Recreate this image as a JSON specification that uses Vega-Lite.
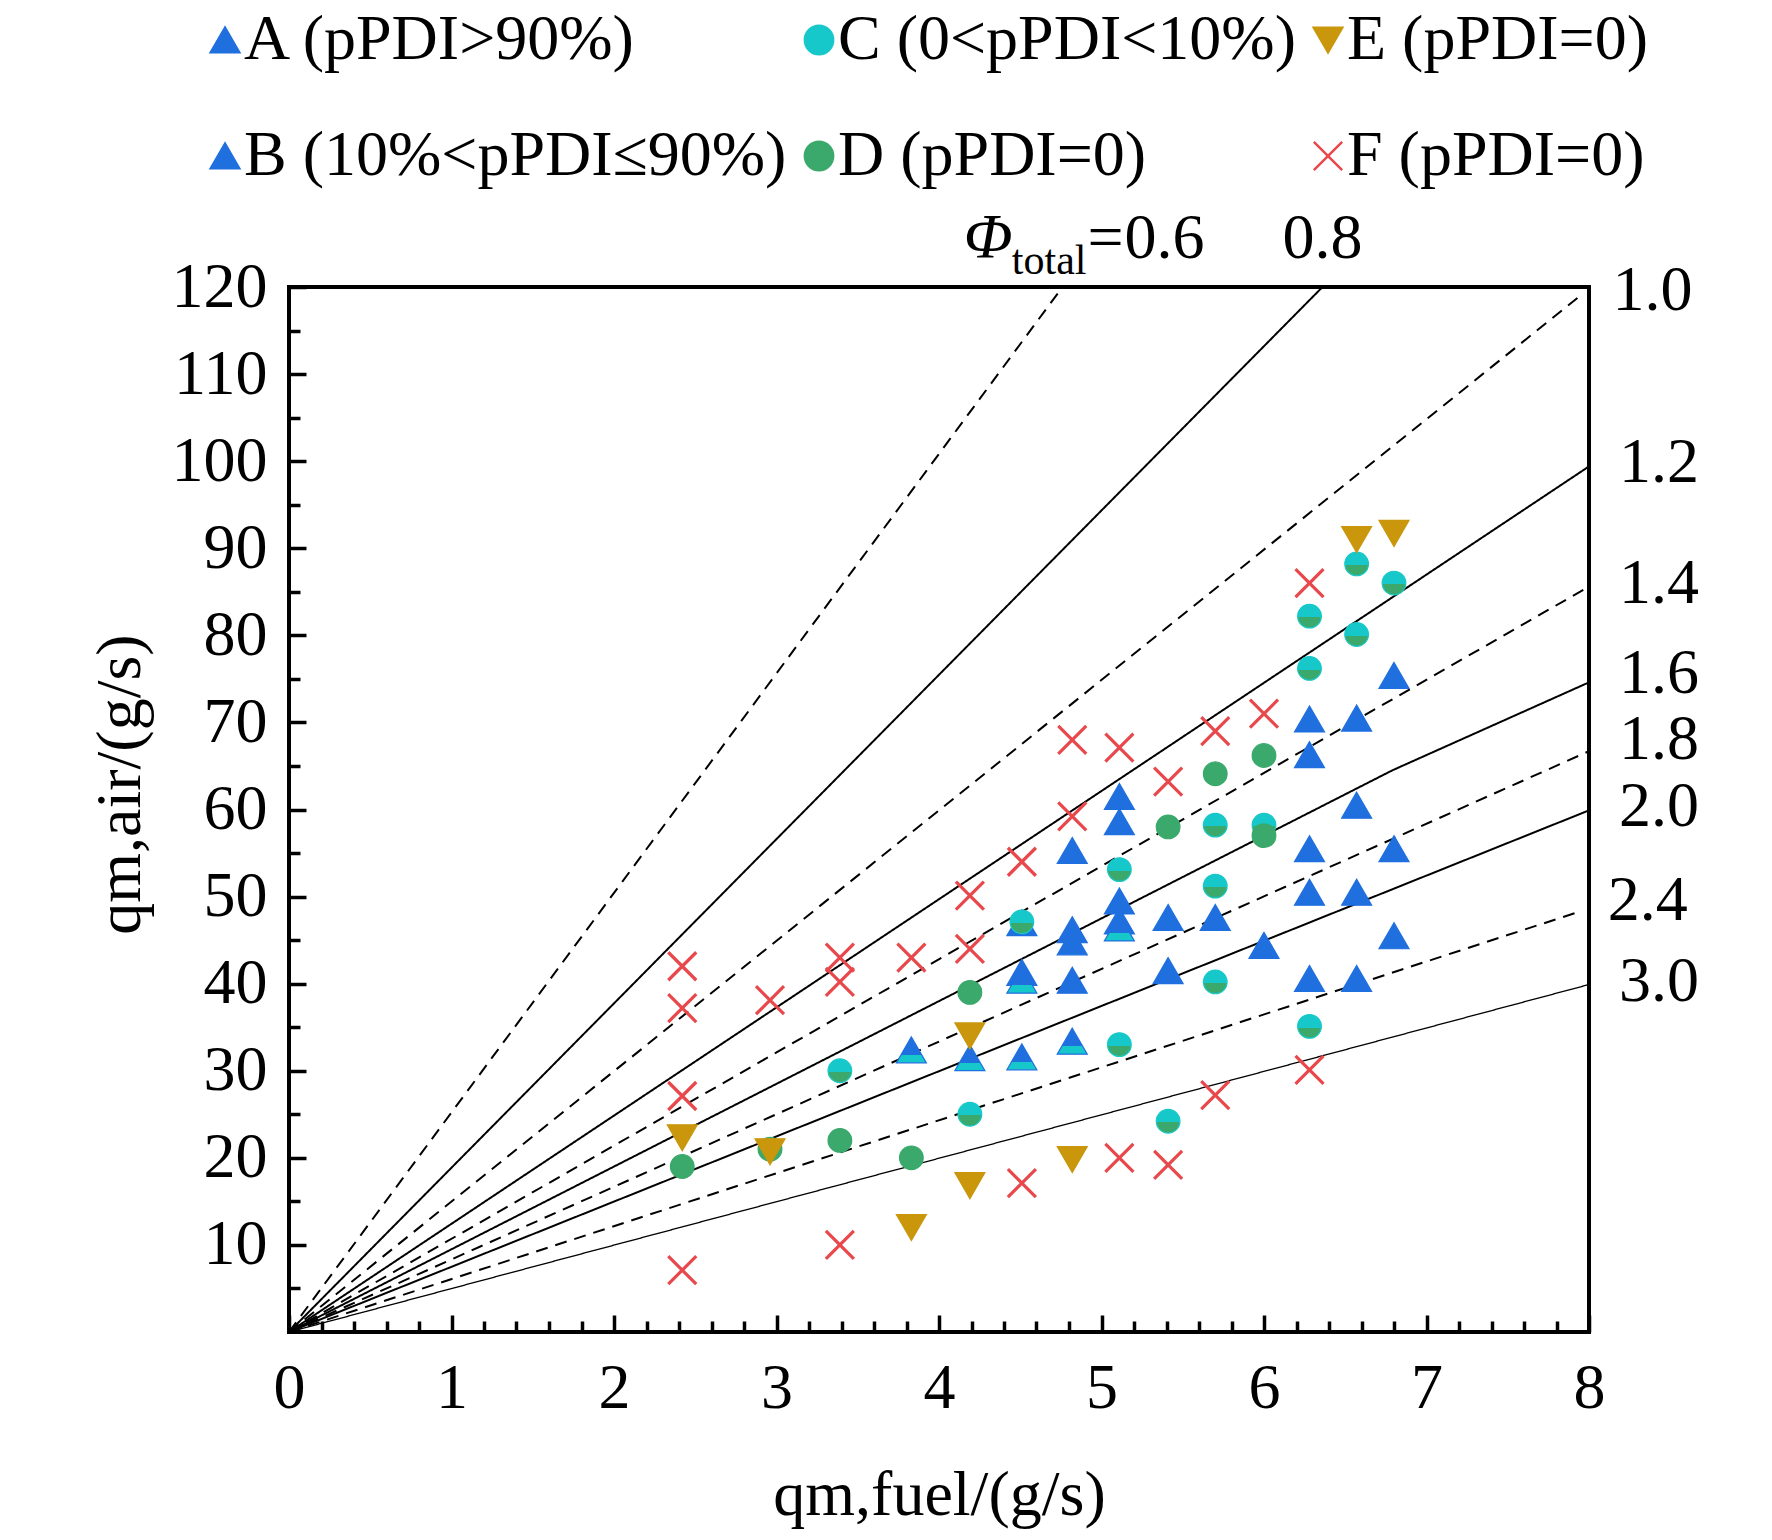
{
  "$schema": "https://vega.github.io/schema/vega-lite/v6.json",
  "width": 1300,
  "height": 1045,
  "autosize": {"type": "none"},
  "padding": {"left": 289, "top": 287, "right": 183, "bottom": 208},
  "background": "white",
  "config": {
    "view": {"stroke": "black", "strokeWidth": 4},
    "font": "Liberation Serif",
    "axis": {
      "labelFont": "Liberation Serif", "labelFontSize": 64, "labelColor": "black",
      "titleFont": "Liberation Serif", "titleFontSize": 64, "titleFontWeight": "normal", "titleColor": "black",
      "grid": false, "domain": false, "tickColor": "black", "tickWidth": 3.5,
      "labelFlush": false, "labelOverlap": false
    },
    "legend": {
      "orient": "none", "legendX": -96, "legendY": -279, "direction": "horizontal",
      "columns": 3, "columnPadding": -6, "rowPadding": 52, "symbolSize": 800,
      "labelFont": "Liberation Serif", "labelFontSize": 64, "labelColor": "black",
      "labelOffset": -13, "labelLimit": 0, "symbolStrokeWidth": 2.5
    },
    "text": {"font": "Liberation Serif", "fontSize": 64, "color": "black"}
  },
  "datasets": {
    "lines": [
      {"phi": 0.6, "x": 0, "y": 0}, {"phi": 0.6, "x": 4.76, "y": 120},
      {"phi": 0.8, "x": 0, "y": 0}, {"phi": 0.8, "x": 6.36, "y": 120},
      {"phi": 1.0, "x": 0, "y": 0}, {"phi": 1.0, "x": 7.96, "y": 119.2},
      {"phi": 1.2, "x": 0, "y": 0}, {"phi": 1.2, "x": 8, "y": 99.4},
      {"phi": 1.4, "x": 0, "y": 0}, {"phi": 1.4, "x": 8, "y": 85.6},
      {"phi": 1.6, "x": 0, "y": 0}, {"phi": 1.6, "x": 6.79, "y": 64.5}, {"phi": 1.6, "x": 8, "y": 74.6},
      {"phi": 1.8, "x": 0, "y": 0}, {"phi": 1.8, "x": 8, "y": 66.7},
      {"phi": 2.0, "x": 0, "y": 0}, {"phi": 2.0, "x": 8, "y": 59.9},
      {"phi": 2.4, "x": 0, "y": 0}, {"phi": 2.4, "x": 7.93, "y": 48.2},
      {"phi": 3.0, "x": 0, "y": 0}, {"phi": 3.0, "x": 8, "y": 39.9}
    ],
    "points": [
      {"c": "A", "x": 4.51, "y": 47}, {"c": "A", "x": 4.51, "y": 41.3},
      {"c": "A", "x": 4.82, "y": 55.3}, {"c": "A", "x": 4.82, "y": 46.2}, {"c": "A", "x": 4.82, "y": 44.8}, {"c": "A", "x": 4.82, "y": 40.4},
      {"c": "A", "x": 5.11, "y": 61.5}, {"c": "A", "x": 5.11, "y": 58.6}, {"c": "A", "x": 5.11, "y": 49.5}, {"c": "A", "x": 5.11, "y": 47.2},
      {"c": "A", "x": 5.41, "y": 47.6}, {"c": "A", "x": 5.41, "y": 41.5},
      {"c": "A", "x": 5.7, "y": 47.6}, {"c": "A", "x": 6.0, "y": 44.4},
      {"c": "A", "x": 6.28, "y": 70.4}, {"c": "A", "x": 6.28, "y": 66.3}, {"c": "A", "x": 6.28, "y": 55.5}, {"c": "A", "x": 6.28, "y": 50.5}, {"c": "A", "x": 6.28, "y": 40.6},
      {"c": "A", "x": 6.57, "y": 70.5}, {"c": "A", "x": 6.57, "y": 60.5}, {"c": "A", "x": 6.57, "y": 50.5}, {"c": "A", "x": 6.57, "y": 40.6},
      {"c": "A", "x": 6.8, "y": 75.4}, {"c": "A", "x": 6.8, "y": 55.5}, {"c": "A", "x": 6.8, "y": 45.5},
      {"c": "B", "x": 3.83, "y": 32.4}, {"c": "B", "x": 4.19, "y": 31.5}, {"c": "B", "x": 4.51, "y": 40.4},
      {"c": "B", "x": 4.51, "y": 31.6}, {"c": "B", "x": 4.82, "y": 33.4}, {"c": "B", "x": 5.11, "y": 46.4},
      {"c": "C", "x": 3.39, "y": 30}, {"c": "C", "x": 4.19, "y": 25}, {"c": "C", "x": 4.51, "y": 47.1},
      {"c": "C", "x": 5.11, "y": 53.1}, {"c": "C", "x": 5.11, "y": 33}, {"c": "C", "x": 5.41, "y": 24.2},
      {"c": "C", "x": 5.7, "y": 58.2}, {"c": "C", "x": 5.7, "y": 51.2}, {"c": "C", "x": 5.7, "y": 40.2},
      {"c": "C", "x": 6.0, "y": 58.2}, {"c": "C", "x": 6.28, "y": 82.2}, {"c": "C", "x": 6.28, "y": 76.2},
      {"c": "C", "x": 6.28, "y": 35.1}, {"c": "C", "x": 6.57, "y": 88.2}, {"c": "C", "x": 6.57, "y": 80.1}, {"c": "C", "x": 6.8, "y": 86},
      {"c": "D", "x": 2.42, "y": 19}, {"c": "D", "x": 2.96, "y": 21}, {"c": "D", "x": 3.39, "y": 22},
      {"c": "D", "x": 3.83, "y": 20}, {"c": "D", "x": 4.19, "y": 39}, {"c": "D", "x": 5.41, "y": 58},
      {"c": "D", "x": 5.7, "y": 64.1}, {"c": "D", "x": 6.0, "y": 66.2}, {"c": "D", "x": 6.0, "y": 57},
      {"c": "E", "x": 2.42, "y": 22.3}, {"c": "E", "x": 2.96, "y": 20.7}, {"c": "E", "x": 3.83, "y": 12},
      {"c": "E", "x": 4.19, "y": 34}, {"c": "E", "x": 4.19, "y": 16.8}, {"c": "E", "x": 4.82, "y": 19.8},
      {"c": "E", "x": 6.57, "y": 91}, {"c": "E", "x": 6.8, "y": 91.7},
      {"c": "F", "x": 2.42, "y": 42}, {"c": "F", "x": 2.42, "y": 37.2}, {"c": "F", "x": 2.42, "y": 27.1}, {"c": "F", "x": 2.42, "y": 7.1},
      {"c": "F", "x": 2.96, "y": 38.1}, {"c": "F", "x": 3.39, "y": 43}, {"c": "F", "x": 3.39, "y": 40.2}, {"c": "F", "x": 3.39, "y": 10},
      {"c": "F", "x": 3.83, "y": 43}, {"c": "F", "x": 4.19, "y": 50.1}, {"c": "F", "x": 4.19, "y": 44},
      {"c": "F", "x": 4.51, "y": 54}, {"c": "F", "x": 4.51, "y": 17.1}, {"c": "F", "x": 4.82, "y": 68}, {"c": "F", "x": 4.82, "y": 59.2},
      {"c": "F", "x": 5.11, "y": 67.1}, {"c": "F", "x": 5.11, "y": 20}, {"c": "F", "x": 5.41, "y": 63.2}, {"c": "F", "x": 5.41, "y": 19.2},
      {"c": "F", "x": 5.7, "y": 69}, {"c": "F", "x": 5.7, "y": 27.2}, {"c": "F", "x": 6.0, "y": 71},
      {"c": "F", "x": 6.28, "y": 86}, {"c": "F", "x": 6.28, "y": 30.1}
    ]
  },
  "layer": [
    {
      "data": {"name": "lines"},
      "mark": {"type": "line", "color": "black"},
      "encoding": {
        "x": {"field": "x", "type": "quantitative", "scale": {"domain": [0, 8], "nice": false, "zero": false},
          "axis": {"orient": "bottom", "values": [0.2, 0.4, 0.6, 0.8, 1.2, 1.4, 1.6, 1.8, 2.2, 2.4, 2.6, 2.8, 3.2, 3.4, 3.6, 3.8, 4.2, 4.4, 4.6, 4.8, 5.2, 5.4, 5.6, 5.8, 6.2, 6.4, 6.6, 6.8, 7.2, 7.4, 7.6, 7.8], "labels": false, "tickSize": -11, "title": null}},
        "y": {"field": "y", "type": "quantitative", "scale": {"domain": [0, 120], "nice": false, "zero": false},
          "axis": {"orient": "left", "values": [5, 15, 25, 35, 45, 55, 65, 75, 85, 95, 105, 115], "labels": false, "tickSize": -11, "title": null}},
        "detail": {"field": "phi", "type": "nominal"},
        "strokeDash": {"condition": {"test": "indexof([0.6, 1, 1.4, 1.8, 2.4], datum.phi) >= 0", "value": [12, 8]}, "value": [1, 0]},
        "strokeWidth": {"condition": {"test": "datum.phi === 3", "value": 1.3}, "value": 2}
      }
    },
    {
      "data": {"name": "points"},
      "mark": {"type": "point", "filled": true, "opacity": 1},
      "encoding": {
        "x": {"field": "x", "type": "quantitative",
          "axis": {"orient": "bottom", "values": [0, 1, 2, 3, 4, 5, 6, 7, 8], "format": "d", "tickSize": -17, "labelPadding": 41, "title": "qm,fuel/(g/s)", "titleY": 182, "titleBaseline": "alphabetic"}},
        "y": {"field": "y", "type": "quantitative",
          "axis": {"orient": "left", "values": [10, 20, 30, 40, 50, 60, 70, 80, 90, 100, 110, 120], "format": "d", "tickSize": -17, "labelPadding": 39, "title": "qm,air/(g/s)", "titleX": -150, "titleY": 497, "titleAngle": 270, "titleAlign": "center", "titleBaseline": "alphabetic"}},
        "shape": {"field": "c", "type": "nominal",
          "scale": {"domain": ["A", "C", "E", "B", "D", "F"], "range": ["triangle-up", "circle", "triangle-down", "triangle-up", "circle", "M-1,-1L1,1M1,-1L-1,1"]},
          "legend": {
            "title": null,
            "labelExpr": "{'A': 'A (pPDI>90%)', 'B': 'B (10%<pPDI≤90%)', 'C': 'C (0<pPDI<10%)', 'D': 'D (pPDI=0)', 'E': 'E (pPDI=0)', 'F': 'F (pPDI=0)'}[datum.label]",
            "encode": {
              "symbols": {
                "fill": {
                  "condition": [
                    {"test": "datum.value === 'B'", "value": {"gradient": "linear", "x1": 0, "y1": 0, "x2": 0, "y2": 1, "stops": [{"offset": 0, "color": "#1f6fdf"}, {"offset": 0.7, "color": "#1f6fdf"}, {"offset": 0.7, "color": "#17c8ca"}, {"offset": 1, "color": "#17c8ca"}]}},
                    {"test": "datum.value === 'C'", "value": {"gradient": "linear", "x1": 0, "y1": 0, "x2": 0, "y2": 1, "stops": [{"offset": 0, "color": "#17c8ca"}, {"offset": 0.55, "color": "#17c8ca"}, {"offset": 0.55, "color": "#3aa96b"}, {"offset": 1, "color": "#3aa96b"}]}},
                    {"test": "datum.value === 'A'", "value": "#1f6fdf"},
                    {"test": "datum.value === 'E'", "value": "#c9960c"},
                    {"test": "datum.value === 'D'", "value": "#3aa96b"}
                  ],
                  "value": "transparent"
                }
              }
            }
          }
        },
        "stroke": {"field": "c", "type": "nominal",
          "scale": {"domain": ["A", "C", "E", "B", "D", "F"], "range": ["#1f6fdf", "#17c8ca", "#c9960c", "#1f6fdf", "#3aa96b", "#e8484b"]},
          "legend": {"title": null, "labelExpr": "{'A': 'A (pPDI>90%)', 'B': 'B (10%<pPDI≤90%)', 'C': 'C (0<pPDI<10%)', 'D': 'D (pPDI=0)', 'E': 'E (pPDI=0)', 'F': 'F (pPDI=0)'}[datum.label]"}},
        "fill": {
          "condition": [
            {"test": "datum.c === 'B'", "value": {"gradient": "linear", "x1": 0, "y1": 0, "x2": 0, "y2": 1, "stops": [{"offset": 0, "color": "#1f6fdf"}, {"offset": 0.7, "color": "#1f6fdf"}, {"offset": 0.7, "color": "#17c8ca"}, {"offset": 1, "color": "#17c8ca"}]}},
            {"test": "datum.c === 'C'", "value": {"gradient": "linear", "x1": 0, "y1": 0, "x2": 0, "y2": 1, "stops": [{"offset": 0, "color": "#17c8ca"}, {"offset": 0.55, "color": "#17c8ca"}, {"offset": 0.55, "color": "#3aa96b"}, {"offset": 1, "color": "#3aa96b"}]}}
          ],
          "field": "c", "type": "nominal",
          "scale": {"domain": ["A", "C", "E", "B", "D", "F"], "range": ["#1f6fdf", "#17c8ca", "#c9960c", "#1f6fdf", "#3aa96b", "transparent"]},
          "legend": {"title": null, "labelExpr": "{'A': 'A (pPDI>90%)', 'B': 'B (10%<pPDI≤90%)', 'C': 'C (0<pPDI<10%)', 'D': 'D (pPDI=0)', 'E': 'E (pPDI=0)', 'F': 'F (pPDI=0)'}[datum.label]"}
        },
        "size": {"condition": [{"test": "datum.c === 'F'", "value": 784}, {"test": "datum.c === 'C' || datum.c === 'D'", "value": 560}], "value": 900},
        "strokeWidth": {"condition": {"test": "datum.c === 'F'", "value": 3.2}, "value": 1.2}
      }
    },
    {
      "data": {"name": "lines"},
      "transform": [
        {"joinaggregate": [{"op": "max", "field": "x", "as": "xmax"}], "groupby": ["phi"]},
        {"filter": "datum.x === datum.xmax && indexof([1, 1.2, 1.4, 2, 3], datum.phi) >= 0"}
      ],
      "mark": {"type": "text", "align": "left", "baseline": "middle", "dx": 30, "dy": -3},
      "encoding": {
        "x": {"field": "x", "type": "quantitative", "axis": null},
        "y": {"field": "y", "type": "quantitative", "axis": null},
        "text": {"field": "phi", "type": "quantitative", "format": ".1f"}
      }
    },
    {
      "data": {"name": "lines"},
      "transform": [
        {"joinaggregate": [{"op": "max", "field": "x", "as": "xmax"}], "groupby": ["phi"]},
        {"filter": "datum.x === datum.xmax && datum.phi === 1.6"}
      ],
      "mark": {"type": "text", "align": "left", "baseline": "middle", "dx": 30, "dy": -8},
      "encoding": {
        "x": {"field": "x", "type": "quantitative", "axis": null},
        "y": {"field": "y", "type": "quantitative", "axis": null},
        "text": {"field": "phi", "type": "quantitative", "format": ".1f"}
      }
    },
    {
      "data": {"name": "lines"},
      "transform": [
        {"filter": "(datum.phi === 1.8 || datum.phi === 2.4) && datum.x > 0"}
      ],
      "mark": {"type": "text", "align": "left", "baseline": "middle", "dx": 30, "dy": -11},
      "encoding": {
        "x": {"field": "x", "type": "quantitative", "axis": null},
        "y": {"field": "y", "type": "quantitative", "axis": null},
        "text": {"field": "phi", "type": "quantitative", "format": ".1f"}
      }
    },
    {
      "data": {"name": "lines"},
      "transform": [{"filter": "datum.phi === 0.8 && datum.x > 0"}],
      "mark": {"type": "text", "align": "center", "baseline": "alphabetic", "dy": -29},
      "encoding": {
        "x": {"field": "x", "type": "quantitative", "axis": null},
        "y": {"field": "y", "type": "quantitative", "axis": null},
        "text": {"field": "phi", "type": "quantitative", "format": ".1f"}
      }
    },
    {
      "data": {"name": "lines"},
      "transform": [{"filter": "datum.phi === 0.6 && datum.x > 0"}],
      "mark": {"type": "text", "align": "left", "baseline": "alphabetic", "dx": 62, "dy": -29},
      "encoding": {
        "x": {"field": "x", "type": "quantitative", "axis": null},
        "y": {"field": "y", "type": "quantitative", "axis": null},
        "text": {"field": "phi", "type": "quantitative", "format": ".1f"}
      }
    },
    {
      "data": {"name": "lines"},
      "transform": [{"filter": "datum.phi === 0.6 && datum.x > 0"}],
      "mark": {"type": "text", "align": "left", "baseline": "alphabetic", "dx": 25, "dy": -29},
      "encoding": {
        "x": {"field": "x", "type": "quantitative", "axis": null},
        "y": {"field": "y", "type": "quantitative", "axis": null},
        "text": {"value": "="}
      }
    },
    {
      "data": {"name": "lines"},
      "transform": [{"filter": "datum.phi === 0.6 && datum.x > 0"}],
      "mark": {"type": "text", "align": "right", "baseline": "alphabetic", "dx": 24, "dy": -13, "fontSize": 42},
      "encoding": {
        "x": {"field": "x", "type": "quantitative", "axis": null},
        "y": {"field": "y", "type": "quantitative", "axis": null},
        "text": {"value": "total"}
      }
    },
    {
      "data": {"name": "lines"},
      "transform": [{"filter": "datum.phi === 0.6 && datum.x > 0"}],
      "mark": {"type": "text", "align": "right", "baseline": "alphabetic", "dx": -50, "dy": -29, "fontStyle": "italic"},
      "encoding": {
        "x": {"field": "x", "type": "quantitative", "axis": null},
        "y": {"field": "y", "type": "quantitative", "axis": null},
        "text": {"value": "Φ"}
      }
    }
  ],
  "resolve": {"axis": {"x": "independent", "y": "independent"}}
}
